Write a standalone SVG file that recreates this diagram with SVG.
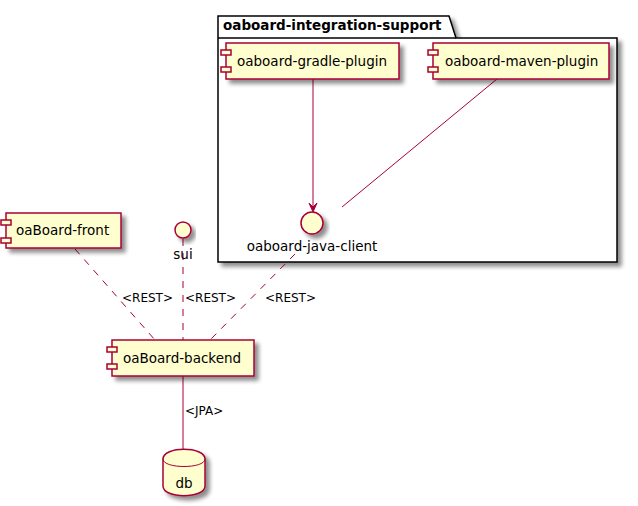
<svg xmlns="http://www.w3.org/2000/svg" width="638" height="506" viewBox="0 0 638 506">
<defs>
<filter id="sh" x="-20%" y="-20%" width="150%" height="160%">
<feGaussianBlur in="SourceAlpha" stdDeviation="2"/>
<feOffset dx="4" dy="4" result="b"/>
<feComponentTransfer><feFuncA type="linear" slope="0.45"/></feComponentTransfer>
<feMerge><feMergeNode/><feMergeNode in="SourceGraphic"/></feMerge>
</filter>
</defs>
<style>
.comp{fill:#FEFECE;stroke:#A80036;stroke-width:1.5}
.t{font-family:"DejaVu Sans",sans-serif;font-size:13.5px;fill:#000}
.lbl{font-family:"DejaVu Sans",sans-serif;font-size:12px;fill:#000}
.ln{stroke:#A80036;stroke-width:1;fill:none}
.dash{stroke-dasharray:7,7}
</style>
<rect width="638" height="506" fill="#FFFFFF"/>
<g id="pkg-oaboard-integration-support">
<path d="M218,16 L449,16 L456,38 L617,38 L617,262 L218,262 Z" fill="#FFFFFF" stroke="#000" stroke-width="1.5" filter="url(#sh)"/>
<line x1="218" y1="38" x2="456" y2="38" stroke="#000" stroke-width="1.5"/>
<text x="223" y="30" style="font-family:'DejaVu Sans',sans-serif;font-size:13.5px;font-weight:bold">oaboard-integration-support</text>
</g>
<g id="connectors">
<line class="ln" x1="313" y1="79" x2="313" y2="210"/>
<path d="M313,212 L309,203 L313,207 L317,203 Z" fill="#A80036" stroke="#A80036" stroke-width="1"/>
<line class="ln" x1="497" y1="79" x2="342" y2="207"/>
<line class="ln dash" x1="75" y1="249" x2="155" y2="340"/>
<line class="ln dash" x1="183" y1="239" x2="183" y2="340"/>
<line class="ln dash" x1="295" y1="254" x2="210" y2="340"/>
<line class="ln" x1="183" y1="376" x2="183" y2="449"/>
<text class="lbl" x="122" y="302">&lt;REST&gt;</text>
<text class="lbl" x="185" y="302">&lt;REST&gt;</text>
<text class="lbl" x="265" y="302">&lt;REST&gt;</text>
<text class="lbl" x="185" y="415">&lt;JPA&gt;</text>
</g>
<g id="oaboard-gradle-plugin">
<rect class="comp" x="226" y="43" width="173" height="36" filter="url(#sh)"/>
<rect class="comp" x="221" y="50" width="10" height="5"/>
<rect class="comp" x="221" y="67" width="10" height="5"/>
<text class="t" x="237" y="66">oaboard-gradle-plugin</text>
</g>
<g id="oaboard-maven-plugin">
<rect class="comp" x="433" y="43" width="176" height="36" filter="url(#sh)"/>
<rect class="comp" x="428" y="50" width="10" height="5"/>
<rect class="comp" x="428" y="67" width="10" height="5"/>
<text class="t" x="445" y="66">oaboard-maven-plugin</text>
</g>
<g id="oaboard-java-client">
<circle class="comp" cx="312" cy="223" r="11" filter="url(#sh)"/>
<text class="t" x="312" y="251" text-anchor="middle">oaboard-java-client</text>
</g>
<g id="oaBoard-front">
<rect class="comp" x="6" y="213" width="115" height="35" filter="url(#sh)"/>
<rect class="comp" x="1" y="220" width="10" height="5"/>
<rect class="comp" x="1" y="238" width="10" height="5"/>
<text class="t" x="16" y="235">oaBoard-front</text>
</g>
<g id="sui">
<circle class="comp" cx="183" cy="230" r="8" filter="url(#sh)"/>
<text class="t" x="183" y="259" text-anchor="middle">sui</text>
</g>
<g id="oaBoard-backend">
<rect class="comp" x="112" y="340" width="142" height="36" filter="url(#sh)"/>
<rect class="comp" x="107" y="347" width="10" height="5"/>
<rect class="comp" x="107" y="364" width="10" height="5"/>
<text class="t" x="123" y="363">oaBoard-backend</text>
</g>
<g id="db">
<path class="comp" d="M163,459 C163,446 205,446 205,459 L205,486 C205,499 163,499 163,486 Z" filter="url(#sh)"/>
<path class="ln" d="M163,459 C163,469 205,469 205,459" stroke-width="1.5"/>
<text class="t" x="184" y="488" text-anchor="middle">db</text>
</g>
</svg>
